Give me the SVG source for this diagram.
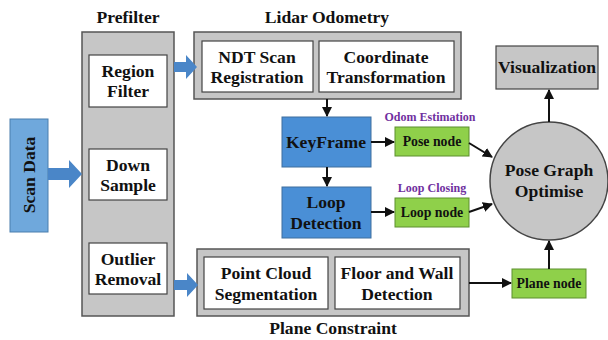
<svg xmlns="http://www.w3.org/2000/svg" width="608" height="340" viewBox="0 0 608 340">
  <defs>
    <style>
      text { font-family: "Liberation Serif", "Times New Roman", serif; font-weight: bold; fill: #111; text-anchor: middle; }
      .t { font-size: 17.6px; }
      .s { font-size: 13.8px; }
      .lbl { font-size: 12px; fill: #7030a0; }
      .panel { fill: #c6c6c6; stroke: #555; stroke-width: 1.5; }
      .box { fill: #fff; stroke: #444; stroke-width: 1.2; }
      .blue { fill: #4a8fd6; stroke: #3f6f9e; stroke-width: 1; }
      .scan { fill: #6fa8dc; stroke: #4a7fae; stroke-width: 1; }
      .green { fill: #8fd04a; stroke: #5d8f2e; stroke-width: 1; }
      .gray { fill: #c6c6c6; stroke: #444; stroke-width: 1.2; }
      .line { stroke: #111; stroke-width: 2; fill: none; marker-end: url(#ah); }
      .fat { fill: #4a86c8; }
    </style>
    <marker id="ah" viewBox="0 0 10 10" refX="9" refY="5" markerWidth="5" markerHeight="5" orient="auto">
      <path d="M0,0 L10,5 L0,10 z" fill="#111"/>
    </marker>
  </defs>

  <!-- section titles -->
  <text class="t" x="128" y="23">Prefilter</text>
  <text class="t" x="327" y="23">Lidar Odometry</text>
  <text class="t" x="333" y="334">Plane Constraint</text>

  <g id="scan-data">
    <rect class="scan" x="10" y="119" width="38" height="113"/>
    <text class="t" transform="translate(35,175) rotate(-90)">Scan Data</text>
  </g>

  <g id="prefilter">
    <rect class="panel" x="82" y="32" width="92" height="284"/>
  </g>
  <g id="region-filter">
    <rect class="box" x="89" y="55" width="78" height="52"/>
    <text class="t" x="128" y="77">Region</text>
    <text class="t" x="128" y="97">Filter</text>
  </g>
  <g id="down-sample">
    <rect class="box" x="89" y="149" width="78" height="51"/>
    <text class="t" x="128" y="171">Down</text>
    <text class="t" x="128" y="191">Sample</text>
  </g>
  <g id="outlier-removal">
    <rect class="box" x="89" y="243" width="78" height="51"/>
    <text class="t" x="128" y="265">Outlier</text>
    <text class="t" x="128" y="285">Removal</text>
  </g>

  <g id="lidar-odometry">
    <rect class="panel" x="194" y="32" width="267" height="67"/>
  </g>
  <g id="ndt-scan">
    <rect class="box" x="202" y="41" width="111" height="51"/>
    <text class="t" x="257" y="63">NDT Scan</text>
    <text class="t" x="257" y="83">Registration</text>
  </g>
  <g id="coordinate-transformation">
    <rect class="box" x="319" y="41" width="135" height="51"/>
    <text class="t" x="386" y="63">Coordinate</text>
    <text class="t" x="386" y="83">Transformation</text>
  </g>

  <g id="keyframe">
    <rect class="blue" x="282" y="117" width="89" height="50"/>
    <text class="t" x="326" y="148">KeyFrame</text>
  </g>
  <g id="loop-detection">
    <rect class="blue" x="282" y="187" width="89" height="51"/>
    <text class="t" x="326" y="208">Loop</text>
    <text class="t" x="326" y="229">Detection</text>
  </g>

  <g id="pose-node">
    <text class="lbl" x="430" y="121">Odom Estimation</text>
    <rect class="green" x="395" y="127" width="74" height="29"/>
    <text class="s" x="432" y="146">Pose node</text>
  </g>
  <g id="loop-node">
    <text class="lbl" x="432" y="192">Loop Closing</text>
    <rect class="green" x="395" y="198" width="74" height="29"/>
    <text class="s" x="432" y="217">Loop node</text>
  </g>

  <g id="pose-graph">
    <circle cx="549" cy="181" r="59" fill="#c6c6c6" stroke="#444" stroke-width="1.5"/>
    <text class="t" x="549" y="176">Pose Graph</text>
    <text class="t" x="549" y="197">Optimise</text>
  </g>
  <g id="visualization">
    <rect class="gray" x="496" y="46" width="102" height="43"/>
    <text class="t" x="547" y="73">Visualization</text>
  </g>

  <g id="plane-constraint">
    <rect class="panel" x="197" y="249" width="272" height="67"/>
  </g>
  <g id="point-cloud">
    <rect class="box" x="204" y="257" width="124" height="52"/>
    <text class="t" x="266" y="279">Point Cloud</text>
    <text class="t" x="266" y="300">Segmentation</text>
  </g>
  <g id="floor-wall">
    <rect class="box" x="335" y="257" width="125" height="52"/>
    <text class="t" x="397" y="279">Floor and Wall</text>
    <text class="t" x="397" y="300">Detection</text>
  </g>
  <g id="plane-node">
    <rect class="green" x="512" y="269" width="74" height="29"/>
    <text class="s" x="549" y="288">Plane node</text>
  </g>

  <g id="connectors">
    <!-- wide blue flow arrows -->
    <polygon class="fat" points="48,168 69,168 69,160 82,174 69,188 69,180 48,180"/>
    <polygon class="fat" points="174,62 186,62 186,55 197,67 186,79 186,72 174,72"/>
    <polygon class="fat" points="174,280 187,280 187,273 198,285 187,297 187,290 174,290"/>
    <!-- thin black arrows -->
    <line class="line" x1="327" y1="99" x2="327" y2="116"/>
    <line class="line" x1="327" y1="167" x2="327" y2="186"/>
    <line class="line" x1="371" y1="142" x2="394" y2="142"/>
    <line class="line" x1="371" y1="212" x2="394" y2="212"/>
    <line class="line" x1="469" y1="143" x2="492" y2="157"/>
    <line class="line" x1="469" y1="212" x2="492" y2="204"/>
    <line class="line" x1="549" y1="122" x2="549" y2="90"/>
    <line class="line" x1="549" y1="269" x2="549" y2="241"/>
    <line class="line" x1="469" y1="283" x2="511" y2="283"/>
  </g>
</svg>
